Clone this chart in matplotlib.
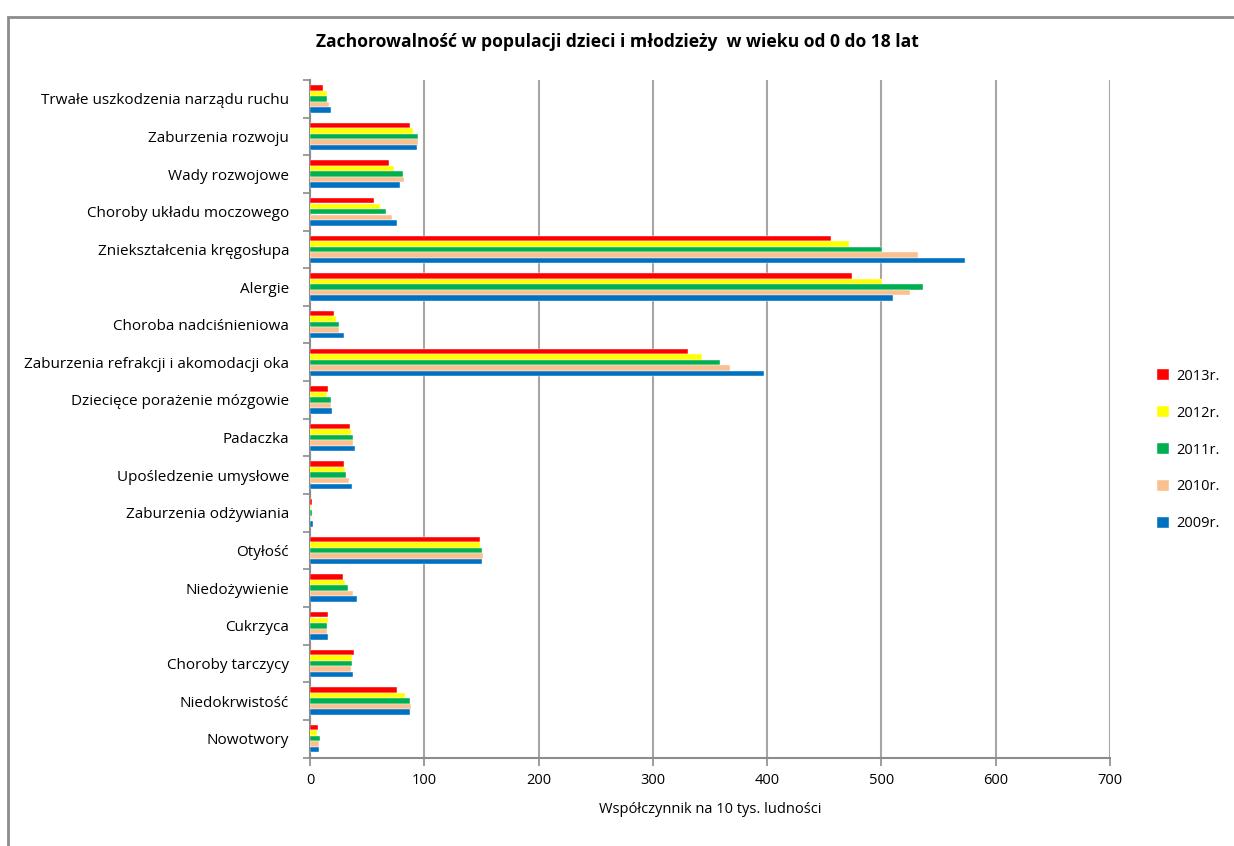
import matplotlib.pyplot as plt
import matplotlib.patches as patches
import numpy as np

plt.rcParams['font.family'] = ['Open Sans', 'DejaVu Sans']

# categories top -> bottom
categories = [
    "Trwałe uszkodzenia narządu ruchu",
    "Zaburzenia rozwoju",
    "Wady rozwojowe",
    "Choroby układu moczowego",
    "Zniekształcenia kręgosłupa",
    "Alergie",
    "Choroba nadciśnieniowa",
    "Zaburzenia refrakcji i akomodacji oka",
    "Dziecięce porażenie mózgowie",
    "Padaczka",
    "Upośledzenie umysłowe",
    "Zaburzenia odżywiania",
    "Otyłość",
    "Niedożywienie",
    "Cukrzyca",
    "Choroby tarczycy",
    "Niedokrwistość",
    "Nowotwory",
]

v2013 = [11.7, 87.5, 69.4, 55.7, 455.6, 474, 21.3, 330.5, 16.0, 34.7, 29.5, 1.5, 148.5, 28.6, 16.0, 38.2, 75.8, 7.3]
v2012 = [15.0, 89.8, 73.8, 61.2, 471.6, 500.5, 23.0, 343.0, 14.9, 35.9, 30.6, 1.2, 148.5, 30.6, 15.7, 37.0, 83.1, 6.4]
v2011 = [14.6, 94.8, 81.1, 66.2, 500.5, 536, 25.4, 358.7, 18.1, 37.9, 31.8, 1.5, 150.8, 33.0, 14.9, 37.0, 87.5, 8.5]
v2010 = [16.9, 94.5, 82.3, 71.7, 532, 525, 25.4, 367.9, 18.1, 37.9, 33.8, 1.2, 151.7, 37.9, 14.9, 35.9, 88.4, 7.6]
v2009 = [18.1, 93.6, 79.0, 75.8, 573, 510, 29.5, 397.5, 19.0, 39.1, 37.0, 2.3, 150.8, 41.1, 16.0, 37.9, 87.5, 7.6]

series = [v2013, v2012, v2011, v2010, v2009]
labels = ["2013r.", "2012r.", "2011r.", "2010r.", "2009r."]
colors = ["#FF0000", "#FFFF00", "#00B050", "#FAC090", "#0070C0"]

fig = plt.figure(figsize=(12.34, 8.46), dpi=100)
ax = fig.add_axes([0.2512, 0.1046, 0.6483, 0.8008])

# outer chart frame (cut off at right and bottom)
fig.patches.append(patches.Rectangle((8 / 1234, -0.1), 1.2, 1 - 17 / 846 + 0.1,
                                     transform=fig.transFigure, fill=False,
                                     edgecolor="#8c8c8c", linewidth=2))

y = np.arange(len(categories))
pitch = 0.147
for j, (vals, lab, col) in enumerate(zip(series, labels, colors)):
    ax.barh(y + (j - 2) * pitch, vals, height=0.145, color=col, label=lab,
            edgecolor="white", linewidth=0.3, zorder=3)

ax.set_xlim(0, 700)
ax.set_ylim(len(categories) - 0.5, -0.5)
ax.set_xticks(np.arange(0, 701, 100))
ax.set_yticks(y)
ax.set_yticklabels(categories, fontsize=11)
ax.set_yticks(np.arange(-0.5, len(categories), 1), minor=True)
ax.tick_params(axis='y', which='major', length=0, pad=15)
ax.tick_params(axis='y', which='minor', length=5, width=1.2, color="#8c8c8c", direction='out')
ax.tick_params(axis='x', length=6, width=1.2, color="#8c8c8c", labelsize=10.5, pad=5)

ax.grid(axis='x', color="#a6a6a6", linewidth=1.5, zorder=0)
for s in ['top', 'right']:
    ax.spines[s].set_visible(False)
for s in ['left', 'bottom']:
    ax.spines[s].set_color("#8c8c8c")
    ax.spines[s].set_linewidth(1.5)

ax.set_xlabel("Współczynnik na 10 tys. ludności", fontsize=10.5, labelpad=10)

fig.text(617 / 1234, 1 - 42 / 846,
         "Zachorowalność w populacji dzieci i młodzieży  w wieku od 0 do 18 lat",
         ha='center', va='center', fontsize=12.6, fontweight='bold')

ax.legend(loc='center left', bbox_to_anchor=(1144 / 1234, 1 - 450 / 846),
          bbox_transform=fig.transFigure, frameon=False, fontsize=10.5,
          handlelength=0.8, handleheight=0.8, handletextpad=0.5, labelspacing=1.5)

fig.savefig("out.png", dpi=100)
